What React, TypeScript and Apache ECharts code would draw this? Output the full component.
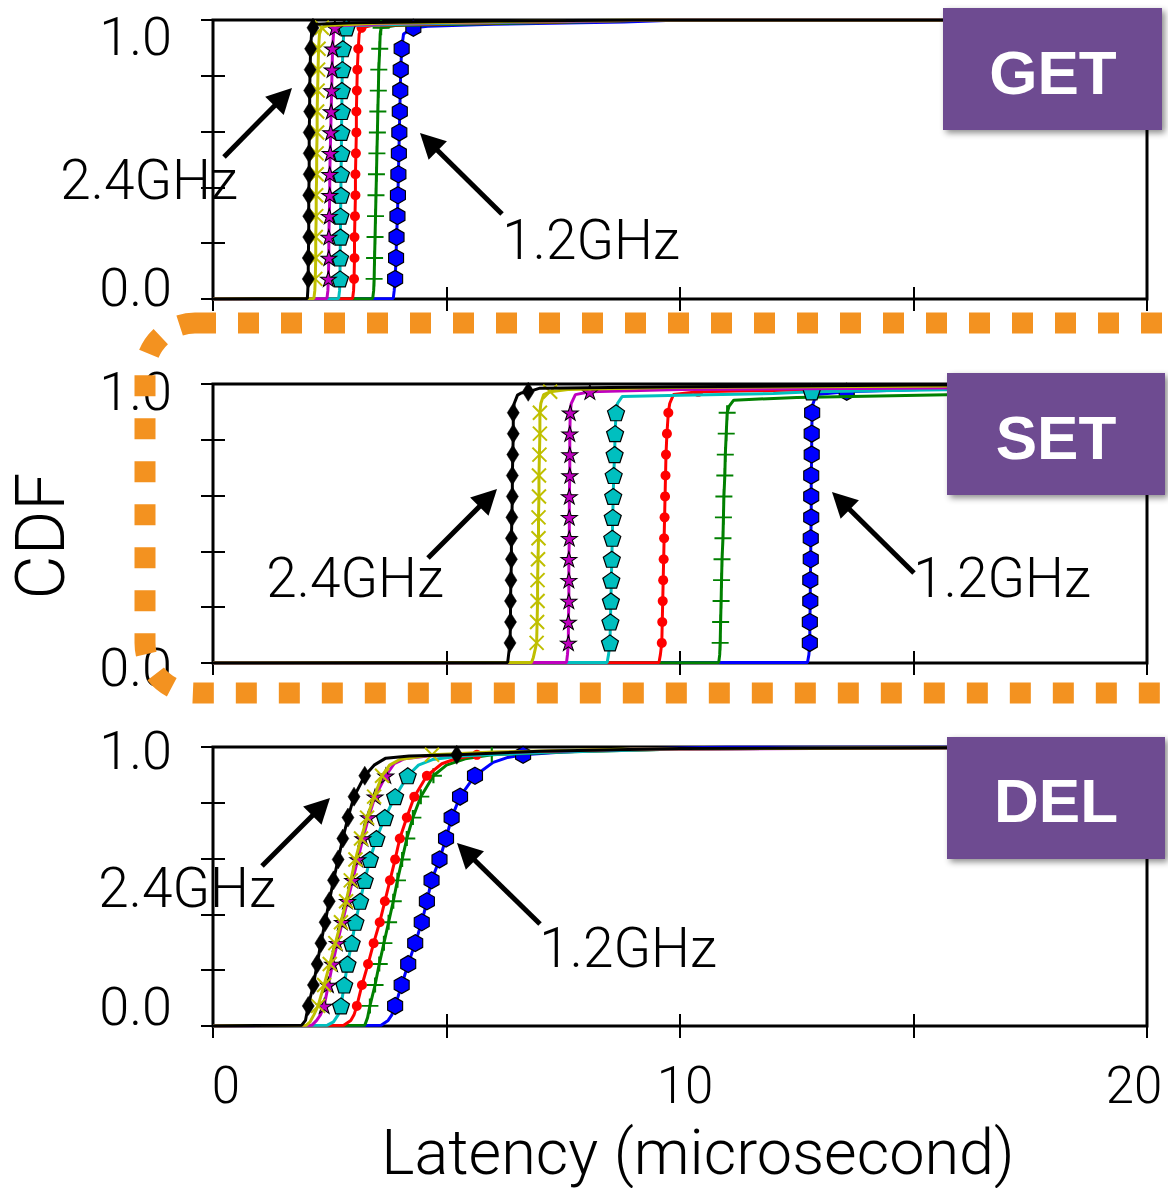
import React, { useEffect, useRef } from 'react';
import * as echarts from 'echarts';

// ---------- data ----------
// CDF levels at which the plotted markers sit
const LEVELS = [0.072, 0.147, 0.222, 0.297, 0.372, 0.447, 0.522, 0.597, 0.672, 0.747, 0.822, 0.897, 0.972];
const X_TICK_VALUES = [0, 10, 20];
const X_TICK_LABELS = ['0', '10', '20'];
const Y_TICK_LABELS = ['0.0', '1.0'];
const PANEL_NAMES = ['GET', 'SET', 'DEL'];
const ANNOT_LABELS = ['2.4GHz', '1.2GHz'];

// GET panel
const GET_BLUE_MARKS = [3.9, 3.92, 3.93, 3.95, 3.96, 3.97, 3.98, 3.99, 4.0, 4.01, 4.02, 4.04, 4.29];
const GET_BLUE_LINE = [[0, 0], [3.86, 0.002], [3.88, 0.03], [4.08, 0.95], [4.6, 0.978], [6, 0.985], [8.8, 0.993], [10, 1], [20, 1]];
const GET_GREEN_MARKS = [3.45, 3.46, 3.47, 3.48, 3.49, 3.5, 3.51, 3.52, 3.53, 3.54, 3.55, 3.57, 3.6];
const GET_GREEN_LINE = [[0, 0], [3.42, 0.002], [3.44, 0.03], [3.58, 0.95], [3.9, 0.98], [5.5, 0.986], [8, 0.994], [9.5, 1], [20, 1]];
const GET_RED_MARKS = [3.02, 3.03, 3.03, 3.04, 3.05, 3.05, 3.06, 3.07, 3.07, 3.08, 3.09, 3.11, 3.18];
const GET_RED_LINE = [[0, 0], [2.99, 0.002], [3.01, 0.03], [3.13, 0.95], [3.4, 0.98], [5, 0.987], [7.5, 0.994], [9.5, 1], [20, 1]];
const GET_CYAN_MARKS = [2.72, 2.72, 2.73, 2.73, 2.74, 2.74, 2.75, 2.75, 2.76, 2.76, 2.77, 2.78, 2.86];
const GET_CYAN_LINE = [[0, 0], [2.69, 0.002], [2.71, 0.03], [2.8, 0.95], [3.05, 0.98], [4.5, 0.987], [7, 0.994], [9.5, 1], [20, 1]];
const GET_MAGENTA_MARKS = [2.47, 2.48, 2.48, 2.49, 2.5, 2.5, 2.51, 2.52, 2.53, 2.54, 2.55, 2.56, 2.61];
const GET_MAGENTA_LINE = [[0, 0], [2.44, 0.002], [2.46, 0.03], [2.58, 0.95], [2.75, 0.98], [4, 0.988], [7, 0.995], [9.5, 1], [20, 1]];
const GET_YELLOW_MARKS = [2.19, 2.2, 2.2, 2.21, 2.21, 2.22, 2.22, 2.23, 2.23, 2.24, 2.25, 2.26, 2.33];
const GET_YELLOW_LINE = [[0, 0], [2.16, 0.002], [2.18, 0.03], [2.28, 0.95], [2.45, 0.98], [3.5, 0.988], [6, 0.994], [9, 1], [20, 1]];
const GET_BLACK_MARKS = [2.04, 2.04, 2.05, 2.05, 2.05, 2.06, 2.06, 2.06, 2.07, 2.07, 2.08, 2.09, 2.14];
const GET_BLACK_LINE = [[0, 0], [2.02, 0.002], [2.03, 0.03], [2.11, 0.95], [2.2, 0.985], [3, 0.99], [6, 0.996], [9, 1], [20, 1]];

// SET panel
const SET_BLUE_MARKS = [12.78, 12.78, 12.79, 12.79, 12.8, 12.8, 12.81, 12.81, 12.81, 12.82, 12.82, 12.83, 13.57];
const SET_BLUE_LINE = [[0, 0], [12.73, 0.002], [12.76, 0.03], [12.85, 0.93], [12.92, 0.962], [16, 0.985], [20, 0.995]];
const SET_GREEN_MARKS = [10.86, 10.87, 10.88, 10.89, 10.9, 10.92, 10.93, 10.94, 10.96, 10.97, 10.99, 11.01];
const SET_GREEN_LINE = [[0, 0], [10.83, 0.002], [10.85, 0.03], [11.05, 0.92], [11.15, 0.942], [12.5, 0.952], [16, 0.962], [20, 0.968]];
const SET_RED_MARKS = [9.61, 9.62, 9.63, 9.64, 9.65, 9.66, 9.67, 9.68, 9.69, 9.7, 9.72, 9.75, 10.39];
const SET_RED_LINE = [[0, 0], [9.55, 0.002], [9.58, 0.03], [9.78, 0.93], [9.86, 0.962], [13, 0.98], [20, 0.99]];
const SET_CYAN_MARKS = [8.5, 8.51, 8.52, 8.53, 8.54, 8.55, 8.56, 8.57, 8.58, 8.6, 8.61, 8.63, 12.82];
const SET_CYAN_LINE = [[0, 0], [8.44, 0.002], [8.47, 0.03], [8.66, 0.93], [8.76, 0.955], [10, 0.96], [12, 0.966], [16, 0.98], [20, 0.985]];
const SET_MAGENTA_MARKS = [7.61, 7.61, 7.62, 7.62, 7.62, 7.63, 7.63, 7.63, 7.64, 7.64, 7.64, 7.65, 8.07];
const SET_MAGENTA_LINE = [[0, 0], [7.57, 0.002], [7.59, 0.03], [7.67, 0.93], [7.76, 0.962], [10, 0.98], [20, 0.99]];
const SET_YELLOW_MARKS = [6.93, 6.94, 6.95, 6.95, 6.96, 6.97, 6.97, 6.98, 6.98, 6.99, 7.0, 7.0, 7.22];
const SET_YELLOW_LINE = [[0, 0], [6.82, 0.002], [6.86, 0.02], [6.9, 0.05], [7.02, 0.93], [7.08, 0.962], [7.6, 0.98], [10, 0.988], [20, 0.996]];
const SET_BLACK_MARKS = [6.36, 6.37, 6.37, 6.38, 6.39, 6.39, 6.4, 6.41, 6.41, 6.42, 6.43, 6.43, 6.75];
const SET_BLACK_LINE = [[0, 0], [6.31, 0.002], [6.33, 0.03], [6.45, 0.93], [6.52, 0.96], [6.6, 0.968], [7, 0.985], [10, 0.99], [15, 0.996], [20, 0.998]];

// DEL panel
const DEL_BLUE_MARKS = [3.9, 4.04, 4.18, 4.33, 4.47, 4.58, 4.68, 4.85, 4.99, 5.11, 5.29, 5.61, 6.64];
const DEL_BLUE_LINE = [[0, 0], [3.6, 0.003], [3.75, 0.02], [3.83, 0.04], [6.0, 0.945], [6.3, 0.962], [7.5, 0.982], [9, 0.993], [11, 1], [20, 1]];
const DEL_GREEN_MARKS = [3.36, 3.47, 3.56, 3.66, 3.76, 3.86, 3.95, 4.05, 4.15, 4.28, 4.45, 4.72, 5.97];
const DEL_GREEN_LINE = [[0, 0], [3.25, 0.003], [3.31, 0.03], [5.0, 0.935], [5.4, 0.958], [7.5, 0.982], [10, 0.993], [20, 1]];
const DEL_RED_MARKS = [3.08, 3.19, 3.32, 3.44, 3.57, 3.68, 3.79, 3.9, 4.0, 4.15, 4.31, 4.58, 5.65];
const DEL_RED_LINE = [[0, 0], [2.8, 0.003], [2.95, 0.02], [3.02, 0.04], [4.9, 0.94], [5.2, 0.958], [7, 0.982], [10, 0.993], [20, 1]];
const DEL_CYAN_MARKS = [2.74, 2.81, 2.88, 2.97, 3.05, 3.15, 3.25, 3.36, 3.5, 3.68, 3.9, 4.17];
const DEL_CYAN_LINE = [[0, 0], [2.45, 0.003], [2.58, 0.015], [2.68, 0.04], [4.4, 0.935], [4.7, 0.955], [5.3, 0.968], [7, 0.98], [10, 0.993], [20, 1]];
const DEL_MAGENTA_MARKS = [2.38, 2.47, 2.56, 2.66, 2.77, 2.88, 2.99, 3.1, 3.21, 3.33, 3.47, 3.7];
const DEL_MAGENTA_LINE = [[0, 0], [2.12, 0.003], [2.22, 0.02], [2.3, 0.04], [3.88, 0.94], [4.1, 0.958], [4.6, 0.968], [6, 0.98], [9, 0.992], [20, 1]];
const DEL_YELLOW_MARKS = [2.25, 2.38, 2.5, 2.62, 2.74, 2.85, 2.95, 3.05, 3.17, 3.3, 3.45, 3.62, 4.69];
const DEL_YELLOW_LINE = [[0, 0], [2.0, 0.003], [2.08, 0.015], [2.16, 0.04], [3.78, 0.935], [4.0, 0.955], [6, 0.982], [9, 0.993], [20, 1]];
const DEL_BLACK_MARKS = [2.04, 2.15, 2.23, 2.31, 2.4, 2.49, 2.58, 2.68, 2.78, 2.89, 3.02, 3.25, 5.22];
const DEL_BLACK_LINE = [[0, 0], [1.9, 0.003], [1.98, 0.02], [3.45, 0.935], [3.7, 0.96], [4.2, 0.968], [7, 0.985], [10, 0.995], [20, 1]];

// curves of each panel, in drawing order: blue (1.2GHz) ... black (2.4GHz)
const PANEL_CURVES = [
  [[GET_BLUE_LINE, GET_BLUE_MARKS], [GET_GREEN_LINE, GET_GREEN_MARKS], [GET_RED_LINE, GET_RED_MARKS], [GET_CYAN_LINE, GET_CYAN_MARKS], [GET_MAGENTA_LINE, GET_MAGENTA_MARKS], [GET_YELLOW_LINE, GET_YELLOW_MARKS], [GET_BLACK_LINE, GET_BLACK_MARKS]],
  [[SET_BLUE_LINE, SET_BLUE_MARKS], [SET_GREEN_LINE, SET_GREEN_MARKS], [SET_RED_LINE, SET_RED_MARKS], [SET_CYAN_LINE, SET_CYAN_MARKS], [SET_MAGENTA_LINE, SET_MAGENTA_MARKS], [SET_YELLOW_LINE, SET_YELLOW_MARKS], [SET_BLACK_LINE, SET_BLACK_MARKS]],
  [[DEL_BLUE_LINE, DEL_BLUE_MARKS], [DEL_GREEN_LINE, DEL_GREEN_MARKS], [DEL_RED_LINE, DEL_RED_MARKS], [DEL_CYAN_LINE, DEL_CYAN_MARKS], [DEL_MAGENTA_LINE, DEL_MAGENTA_MARKS], [DEL_YELLOW_LINE, DEL_YELLOW_MARKS], [DEL_BLACK_LINE, DEL_BLACK_MARKS]],
] as any[];

// ---------- styles / layout ----------
const FONT = 'Roboto, "Liberation Sans", Arial, sans-serif';
const HEX = 'path://M0,-1 L0.866,-0.5 L0.866,0.5 L0,1 L-0.866,0.5 L-0.866,-0.5 Z';
const PENT = 'path://M0,-1 L0.951,-0.309 L0.588,0.809 L-0.588,0.809 L-0.951,-0.309 Z';
const STAR = 'path://M0,-1 L0.2245,-0.309 L0.951,-0.309 L0.363,0.118 L0.588,0.809 L0,0.382 L-0.588,0.809 L-0.363,0.118 L-0.951,-0.309 L-0.2245,-0.309 Z';
const XMARK = 'path://M0,0 L10,10 M10,0 L0,10';
const PLUS = 'path://M5,0 L5,10 M0,5 L10,5';

const CURVE_STYLES = [
  { color: '#0000ff', symbol: HEX, size: [15, 17], filled: true, edge: 1.2 },
  { color: '#008000', symbol: PLUS, size: [17, 15], filled: false, edge: 2 },
  { color: '#ff0000', symbol: 'circle', size: 10, filled: true, edge: 0 },
  { color: '#00bfbf', symbol: PENT, size: [17, 16], filled: true, edge: 1.2 },
  { color: '#bf00bf', symbol: STAR, size: [16, 15], filled: true, edge: 1 },
  { color: '#bfbf00', symbol: XMARK, size: [14, 14], filled: false, edge: 2 },
  { color: '#000000', symbol: 'diamond', size: [12, 19], filled: true, edge: 0.5 },
];

const GRID_LEFT = 213;
const GRID_WIDTH = 934;
const GRID_HEIGHT = 279;
const GRID_TOPS = [20, 384, 747];
const Y_LABEL_SHIFT = [[-12, 16], [4, 7], [-20, 3]]; // [0.0 label, 1.0 label] vertical shift (px, + = down)
const X_LABEL_PAD = [[0, 0, 0, 26], [0, 0, 0, 10], [0, 26, 0, 0]];

const BOXES = [
  { x: 943, y: 8, w: 219, h: 122, tx: 1053, ty: 72 },
  { x: 947, y: 373, w: 218, h: 122, tx: 1056, ty: 437 },
  { x: 947, y: 737, w: 218, h: 122, tx: 1056, ty: 800 },
];
const ANNOT_POS = [
  [[149, 180], [591, 240]],
  [[355, 578], [1002, 578]],
  [[187, 888], [628, 948]],
];
const ARROWS = [
  [[224, 157, 292, 88], [502, 214, 420, 133]],
  [[428, 558, 497, 489], [914, 573, 832, 492]],
  [[262, 866, 330, 798], [540, 924, 457, 843]],
];

function pad(s: number) {
  return s >= 0 ? [2 * s, 0, 0, 0] : [0, 0, -2 * s, 0];
}

function buildSeries() {
  const series: any[] = [];
  PANEL_CURVES.forEach((curves: any[], p: number) => {
    curves.forEach((c: any[], k: number) => {
      const st = CURVE_STYLES[k];
      const line: number[][] = c[0];
      const marks: number[] = c[1];
      const pts: any[] = line
        .map((v) => ({ value: v, symbol: 'none' }))
        .concat(marks.map((x, i) => ({ value: [x, LEVELS[i]] })));
      pts.sort((a, b) => a.value[1] - b.value[1] || a.value[0] - b.value[0]);
      series.push({
        type: 'line',
        xAxisIndex: p * 2,
        yAxisIndex: p * 2,
        data: pts,
        symbol: st.symbol,
        symbolSize: st.size,
        showSymbol: true,
        showAllSymbol: true,
        silent: true,
        lineStyle: { color: st.color, width: 3 },
        itemStyle: st.filled
          ? { color: st.color, borderColor: '#000', borderWidth: st.edge, opacity: 1 }
          : { color: 'rgba(0,0,0,0)', borderColor: st.color, borderWidth: st.edge, opacity: 1 },
        emphasis: { disabled: true },
        z: 2 + k,
      });
    });
  });
  return series;
}

function buildGraphics() {
  const els: any[] = [];
  BOXES.forEach((b, i) => {
    els.push({
      type: 'rect',
      shape: { x: b.x, y: b.y, width: b.w, height: b.h },
      style: { fill: '#6e4b91', shadowBlur: 6, shadowOffsetX: 3, shadowOffsetY: 3, shadowColor: 'rgba(0,0,0,0.45)' },
      z: 50,
      silent: true,
    });
    els.push({
      type: 'text',
      x: b.tx,
      y: b.ty,
      style: {
        text: PANEL_NAMES[i],
        fill: '#ffffff',
        fontSize: 62,
        fontWeight: 'bold',
        fontFamily: '"Liberation Sans", Arial, sans-serif',
        align: 'center',
        verticalAlign: 'middle',
      },
      z: 51,
      silent: true,
    });
  });
  ANNOT_POS.forEach((pair) => {
    pair.forEach((pos, j) => {
      els.push({
        type: 'text',
        x: pos[0],
        y: pos[1],
        style: {
          text: ANNOT_LABELS[j],
          fill: '#000',
          fontSize: 55,
          fontWeight: 300,
          fontFamily: FONT,
          align: 'center',
          verticalAlign: 'middle',
        },
        z: 60,
        silent: true,
      });
    });
  });
  ARROWS.forEach((pair) => {
    pair.forEach((a) => {
      const [tx, ty, px, py] = a;
      const dx = px - tx;
      const dy = py - ty;
      const len = Math.sqrt(dx * dx + dy * dy);
      const ux = dx / len;
      const uy = dy / len;
      const L = 25;
      const W = 13;
      const bx = px - ux * L;
      const by = py - uy * L;
      els.push({
        type: 'line',
        shape: { x1: tx, y1: ty, x2: bx + ux * 2, y2: by + uy * 2 },
        style: { stroke: '#000', lineWidth: 5 },
        z: 60,
        silent: true,
      });
      els.push({
        type: 'polygon',
        shape: { points: [[px, py], [bx - uy * W, by + ux * W], [bx + uy * W, by - ux * W]] },
        style: { fill: '#000' },
        z: 60,
        silent: true,
      });
    });
  });
  els.push({
    type: 'text',
    x: 41,
    y: 536,
    rotation: Math.PI / 2,
    style: { text: 'CDF', fill: '#000', fontSize: 68, fontWeight: 300, fontFamily: FONT, align: 'center', verticalAlign: 'middle' },
    z: 60,
    silent: true,
  });
  els.push({
    type: 'text',
    x: 698,
    y: 1152,
    style: { text: 'Latency (microsecond)', fill: '#000', fontSize: 63, fontWeight: 300, fontFamily: FONT, align: 'center', verticalAlign: 'middle' },
    z: 60,
    silent: true,
  });
  els.push({
    type: 'rect',
    shape: { x: 145, y: 323, width: 1100, height: 370, r: 50 },
    style: { fill: 'none', stroke: '#f39220', lineWidth: 21, lineDash: [21, 22] },
    z: 200,
    silent: true,
  });
  return els;
}

function buildOption() {
  const tick = { show: true, inside: true, length: 12, lineStyle: { color: '#000', width: 2 } };
  const grid = GRID_TOPS.map((t) => ({
    left: GRID_LEFT,
    top: t,
    width: GRID_WIDTH,
    height: GRID_HEIGHT,
    show: true,
    borderColor: '#000',
    borderWidth: 3,
    backgroundColor: '#fff',
    containLabel: false,
    outerBoundsMode: 'none',
  }));
  const xLabelStyle = { fontSize: 51, fontWeight: 300, fontFamily: FONT, color: '#000', lineHeight: 52 };
  const yLabelStyle = { fontSize: 54, fontWeight: 300, fontFamily: FONT, color: '#000', lineHeight: 56 };
  const xAxis: any[] = [];
  const yAxis: any[] = [];
  GRID_TOPS.forEach((_, i) => {
    xAxis.push({
      gridIndex: i,
      type: 'value',
      min: 0,
      max: 20,
      interval: 5,
      position: 'bottom',
      axisLine: { show: false },
      splitLine: { show: false },
      axisTick: tick,
      axisLabel:
        i === 2
          ? {
              show: true,
              margin: 33,
              showMinLabel: true,
              showMaxLabel: true,
              formatter: (v: number) => {
                const idx = X_TICK_VALUES.indexOf(Math.round(v));
                if (idx < 0 || Math.abs(v - Math.round(v)) > 1e-6) return '';
                return `{l${idx}|${X_TICK_LABELS[idx]}}`;
              },
              rich: {
                l0: { ...xLabelStyle, padding: X_LABEL_PAD[0] },
                l1: { ...xLabelStyle, padding: X_LABEL_PAD[1] },
                l2: { ...xLabelStyle, padding: X_LABEL_PAD[2] },
              },
            }
          : { show: false },
    });
    xAxis.push({
      gridIndex: i,
      type: 'value',
      min: 0,
      max: 20,
      interval: 5,
      position: 'top',
      axisLine: { show: false },
      splitLine: { show: false },
      axisTick: tick,
      axisLabel: { show: false },
    });
    yAxis.push({
      gridIndex: i,
      type: 'value',
      min: 0,
      max: 1,
      interval: 0.2,
      position: 'left',
      axisLine: { show: false },
      splitLine: { show: false },
      axisTick: tick,
      axisLabel: {
        show: true,
        margin: 41,
        showMinLabel: true,
        showMaxLabel: true,
        formatter: (v: number) => {
          if (Math.abs(v - 1) < 1e-6) return `{t|${Y_TICK_LABELS[1]}}`;
          if (Math.abs(v) < 1e-6) return `{b|${Y_TICK_LABELS[0]}}`;
          return '';
        },
        rich: {
          t: { ...yLabelStyle, padding: pad(Y_LABEL_SHIFT[i][1]) },
          b: { ...yLabelStyle, padding: pad(Y_LABEL_SHIFT[i][0]) },
        },
      },
    });
    yAxis.push({
      gridIndex: i,
      type: 'value',
      min: 0,
      max: 1,
      interval: 0.2,
      position: 'right',
      axisLine: { show: false },
      splitLine: { show: false },
      axisTick: tick,
      axisLabel: { show: false },
    });
  });
  return {
    animation: false,
    backgroundColor: '#fff',
    grid,
    xAxis,
    yAxis,
    series: buildSeries(),
    graphic: { elements: buildGraphics() },
  };
}

export default function App() {
  const ref = useRef<HTMLDivElement>(null);
  useEffect(() => {
    const el = ref.current;
    if (!el) return;
    const chart = echarts.init(el, null, { renderer: 'svg' });
    chart.setOption(buildOption() as any);
    return () => chart.dispose();
  }, []);
  return (
    <div
      ref={ref}
      style={{ position: 'absolute', left: 0, top: 0, width: 1168, height: 1188, background: '#fff' }}
    />
  );
}
